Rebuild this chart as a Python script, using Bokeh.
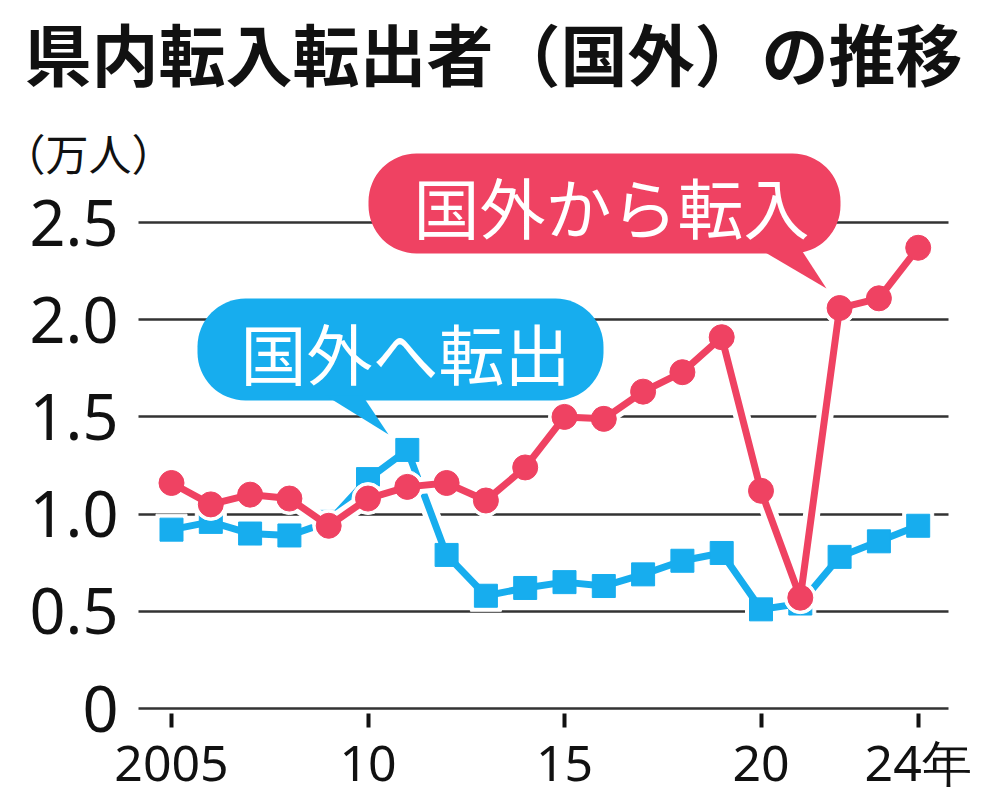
from bokeh.plotting import figure
from bokeh.models import Label, FixedTicker, Range1d, ColumnDataSource, LinearAxis
from bokeh.embed import file_html
from bokeh.resources import INLINE
from bokeh.core.properties import value

# ---- data ----
years = list(range(2005, 2025))
inflow = [1.16, 1.05, 1.10, 1.08, 0.94, 1.08, 1.14, 1.16, 1.07, 1.24,
          1.50, 1.49, 1.63, 1.73, 1.91, 1.12, 0.57, 2.06, 2.11, 2.37]
outflow = [0.92, 0.96, 0.90, 0.89, 0.96, 1.18, 1.33, 0.79, 0.58, 0.62,
           0.65, 0.63, 0.69, 0.76, 0.80, 0.51, 0.54, 0.78, 0.86, 0.94]
y_ticks = [0, 0.5, 1.0, 1.5, 2.0, 2.5]
y_tick_labels = ["0", "0.5", "1.0", "1.5", "2.0", "2.5"]
x_ticks = [2005, 2010, 2015, 2020, 2024]
x_tick_labels = ["2005", "10", "15", "20", "24年"]
title_text = "県内転入転出者（国外）の推移"
unit_text = "（万人）"
in_label = "国外から転入"
out_label = "国外へ転出"

# ---- layout helpers (canvas pixels -> data) ----
W, H = 1000, 809
PL, PR, PB = 138, 948, 713          # plot-area edges in canvas px
X0PX, XPX = 171.0, 39.3
Y0PX, YPX = 708.0, 194.4

def dx(px):
    return 2005 + (px - X0PX) / XPX

def dy(py):
    return (Y0PX - py) / YPX

RED = "#EF4262"
BLUE = "#17ADEE"

# frame covers the whole canvas; axes sit at fixed locations inside it
p = figure(width=W, height=H, output_backend="svg", toolbar_location=None,
           x_range=Range1d(dx(0), dx(W)), y_range=Range1d(dy(H), dy(0)),
           x_axis_location=None, y_axis_location=None,
           min_border=0, min_border_left=0, min_border_right=0,
           min_border_top=0, min_border_bottom=0)
p.outline_line_color = None
p.background_fill_color = "white"
p.border_fill_color = "white"

xaxis = LinearAxis(fixed_location=dy(PB), ticker=FixedTicker(ticks=x_ticks))
xaxis.major_label_overrides = {t: l for t, l in zip(x_ticks, x_tick_labels)}
xaxis.axis_line_color = None
xaxis.major_tick_in = 0
xaxis.major_tick_out = 14
xaxis.major_tick_line_width = 4
xaxis.major_tick_line_color = "#111111"
xaxis.minor_tick_line_color = None
xaxis.major_label_text_font = "Noto Sans"
xaxis.major_label_text_font_size = "50px"
xaxis.major_label_text_color = "#111111"
xaxis.major_label_standoff = 0
p.add_layout(xaxis, "below")

yaxis = LinearAxis(fixed_location=dx(PL), ticker=FixedTicker(ticks=y_ticks))
yaxis.major_label_overrides = {t: l for t, l in zip(y_ticks, y_tick_labels)}
yaxis.axis_line_color = None
yaxis.major_tick_line_color = None
yaxis.minor_tick_line_color = None
yaxis.major_label_text_font = "Noto Sans"
yaxis.major_label_text_font_size = "63px"
yaxis.major_label_text_color = "#111111"
yaxis.major_label_standoff = 14
p.add_layout(yaxis, "left")

p.xgrid.visible = False
p.ygrid.ticker = FixedTicker(ticks=y_ticks)
p.ygrid.grid_line_color = "#333333"
p.ygrid.grid_line_width = 2.5
p.ygrid.cross_bounds = (dx(PL), dx(PR))

src = ColumnDataSource(dict(year=years, inflow=inflow, outflow=outflow))

# blue series (国外へ転出)
p.line("year", "outflow", source=src, line_color="white", line_width=17)
p.scatter("year", "outflow", source=src, marker="square", size=31, color="white")
p.line("year", "outflow", source=src, line_color=BLUE, line_width=7)
p.scatter("year", "outflow", source=src, marker="square", size=23, color=BLUE)

# red series (国外から転入)
p.line("year", "inflow", source=src, line_color="white", line_width=17)
p.scatter("year", "inflow", source=src, marker="circle", size=32, color="white")
p.line("year", "inflow", source=src, line_color=RED, line_width=7)
p.scatter("year", "inflow", source=src, marker="circle", size=25, color=RED)

# callout bubbles
def bubble(l, r, t, b, tail, color, text, tcx, tcy):
    p.quad(left=[dx(l)], right=[dx(r)], top=[dy(t)], bottom=[dy(b)],
           fill_color=color, line_color=None, border_radius=48)
    p.patch([dx(q[0]) for q in tail], [dy(q[1]) for q in tail],
            fill_color=color, line_color=None)
    p.text(x=[dx(tcx)], y=[dy(tcy)], text=[text], text_color="white",
           text_font=value("Noto Sans CJK JP"), text_font_size="66px",
           text_align="center", text_baseline="middle")

bubble(368, 840, 153, 253, [(758, 248), (800, 248), (826, 288)], RED, in_label, 611, 204)
bubble(197, 603, 298, 400, [(325, 395), (362, 395), (388, 434)], BLUE, out_label, 405, 350)

# title and unit
p.add_layout(Label(x=dx(24), y=dy(51), text=title_text, text_font="Noto Sans CJK JP",
                   text_font_size="67px", text_font_style="bold", text_color="#111111",
                   text_baseline="middle", text_align="left"))
p.add_layout(Label(x=dx(2), y=dy(151), text=unit_text, text_font="Noto Sans CJK JP",
                   text_font_size="43px", text_color="#111111",
                   text_baseline="middle", text_align="left"))

open("out.html", "w").write(file_html(p, INLINE))
